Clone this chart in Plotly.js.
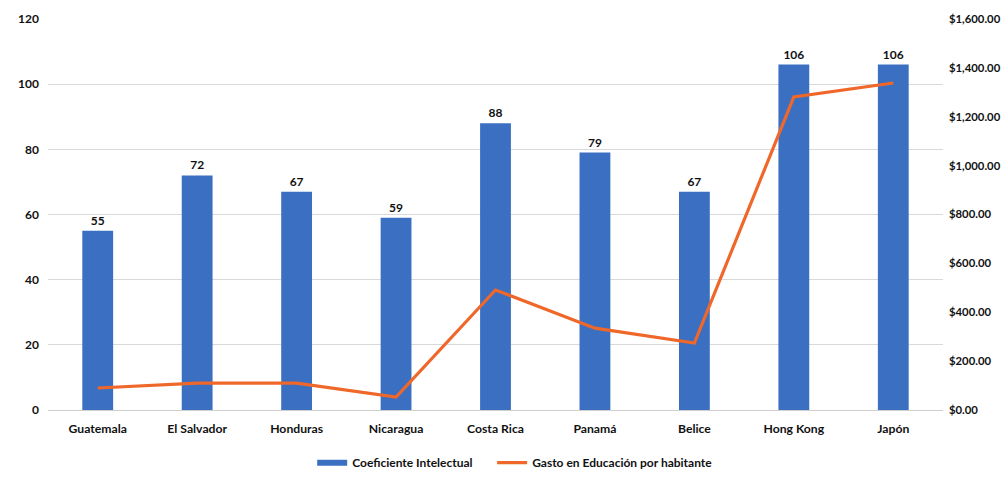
<!DOCTYPE html>
<html><head><meta charset="utf-8">
<script src="https://cdn.plot.ly/plotly-3.0.1.min.js"></script>
<style>body{margin:0;background:#fff}#c{width:1004px;height:483px}</style>
</head><body><div id="c"></div>
<script>
const countries = ["Guatemala","El Salvador","Honduras","Nicaragua","Costa Rica","Panamá","Belice","Hong Kong","Japón"];
const iq = [55,72,67,59,88,79,67,106,106];
const spending = [90,110,110,53,491,335,274,1281,1338];
const seriesNames = ["Coeficiente Intelectual","Gasto en Educación por habitante"];

const fam = "Lato, 'Open Sans', sans-serif";
const blue = "#3B6FC2", orange = "#F0672A";
const pad = "\u00a0\u00a0\u00a0\u00a0\u00a0";
const traces = [
 {type:"bar", x:countries, y:iq, name:seriesNames[0], showlegend:false,
  marker:{color:blue}, text:iq.map(String), textposition:"outside",
  textfont:{family:fam,size:12,color:"#111",weight:"bold"}, cliponaxis:false},
 {type:"scatter", mode:"lines", x:[null], y:[null], name:seriesNames[0] + pad,
  line:{color:blue, width:6}, hoverinfo:"skip"},
 {type:"scatter", mode:"lines", x:countries, y:spending, yaxis:"y2",
  name:seriesNames[1], line:{color:orange, width:3.2}}
];
const layout = {
 width:1004, height:483, margin:{l:48,r:61,t:19,b:73},
 paper_bgcolor:"#fff", plot_bgcolor:"#fff",
 font:{family:fam,size:12,color:"#111",weight:"bold"},
 bargap:0.69, showlegend:true,
 legend:{orientation:"h", x:0.522, xanchor:"center", yref:"container", y:0.042, yanchor:"middle",
   font:{family:fam,size:12,color:"#111",weight:"bold"}, traceorder:"normal", itemwidth:30},
 xaxis:{tickfont:{size:12.2,weight:"bold"}, showline:false, ticks:"", showgrid:false, automargin:false, ticklabelstandoff:10},
 yaxis:{range:[0,120], dtick:20, gridcolor:"#d9d9d9", gridwidth:1, zeroline:true, zerolinecolor:"#cfcfcf",
   tickfont:{size:12,weight:"bold"}, ticklabelstandoff:8, automargin:false},
 yaxis2:{range:[0,1600], dtick:200, overlaying:"y", side:"right", showgrid:false, zeroline:false,
   tickformat:"$,.2f", tickfont:{size:11.3,weight:"bold"}, ticklabelstandoff:5, automargin:false}
};
Plotly.newPlot("c", traces, layout, {displayModeBar:false});
</script></body></html>
